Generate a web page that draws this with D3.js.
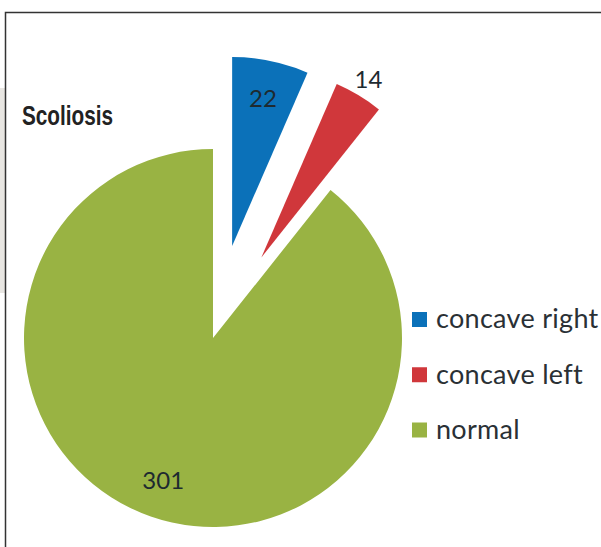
<!DOCTYPE html>
<html>
<head>
<meta charset="utf-8">
<script src="https://cdn.jsdelivr.net/npm/d3@7"></script>
<style>
  html, body { margin: 0; padding: 0; background: #fff; }
  svg { display: block; }
</style>
</head>
<body>
<div id="chart"></div>
<script>
// data
const categories = ["concave right", "concave left", "normal"];
const counts = [22, 14, 301];
const colors = ["#0b71b9", "#d0373b", "#99b343"];
const exploded = ["concave right", "concave left"];

(() => {
  const W = 601, H = 547;
  const cx = 213, cy = 338, R = 189;
  const EXPLODE = 94;

  const svg = d3.select("#chart").append("svg")
    .attr("width", W).attr("height", H);

  // blurred page remnant at the left edge
  svg.append("rect").attr("x", 0).attr("y", 88).attr("width", 5).attr("height", 205)
    .attr("fill", "#e8e6e2");

  // frame (left + top only visible)
  svg.append("path")
    .attr("d", `M5.5,${H} V12.5 H${W}`)
    .attr("fill", "none").attr("stroke", "#333").attr("stroke-width", 1.5);

  // title is a narrow grotesque; squeeze Liberation Sans to its width
  svg.append("text")
    .attr("x", 22).attr("y", 125)
    .attr("font-family", "'Liberation Sans', Arial, sans-serif")
    .attr("font-weight", "bold").attr("font-size", 27)
    .attr("textLength", 91).attr("lengthAdjust", "spacingAndGlyphs")
    .attr("fill", "#222")
    .text("Scoliosis");

  const data = categories.map((c, i) => ({ cat: c, value: counts[i], color: colors[i] }));
  const pie = d3.pie().sort(null).value(d => d.value).startAngle(0).endAngle(2 * Math.PI);
  const arc = d3.arc().innerRadius(0).outerRadius(R);
  const arcs = pie(data);

  const g = svg.append("g").attr("transform", `translate(${cx},${cy})`);

  const offset = d => {
    if (!exploded.includes(d.data.cat)) return [0, 0];
    const a = (d.startAngle + d.endAngle) / 2;
    return [EXPLODE * Math.sin(a), -EXPLODE * Math.cos(a)];
  };

  const slice = g.selectAll("g.slice").data(arcs).join("g")
    .attr("class", "slice")
    .attr("transform", d => `translate(${offset(d)})`);

  slice.append("path")
    .attr("d", arc)
    .attr("fill", d => d.data.color);

  slice.append("text")
    .attr("transform", d => {
      const a = (d.startAngle + d.endAngle) / 2;
      const small = (d.endAngle - d.startAngle) < 0.3;
      const r = small ? R * 1.1 : R * 0.8;
      return `translate(${r * Math.sin(a)},${-r * Math.cos(a)})`;
    })
    .attr("text-anchor", "middle").attr("dy", "0.36em")
    .attr("font-family", "Lato, 'Open Sans', sans-serif")
    .attr("font-size", 24).attr("fill", "#1e2a30")
    .text(d => d.value);

  // legend
  const ly = d3.scalePoint().domain(categories).range([319.5, 430]);
  const leg = svg.append("g").selectAll("g").data(data).join("g")
    .attr("transform", d => `translate(412,${ly(d.cat)})`);
  leg.append("rect").attr("x", 0).attr("y", -7.5).attr("width", 15).attr("height", 15)
    .attr("fill", d => d.color);
  leg.append("text")
    .attr("x", 24).attr("dy", "0.33em")
    .attr("font-family", "Lato, 'Open Sans', sans-serif")
    .attr("font-size", 27).attr("letter-spacing", 0.3).attr("fill", "#2a3035")
    .text(d => d.cat);
})();
</script>
</body>
</html>
